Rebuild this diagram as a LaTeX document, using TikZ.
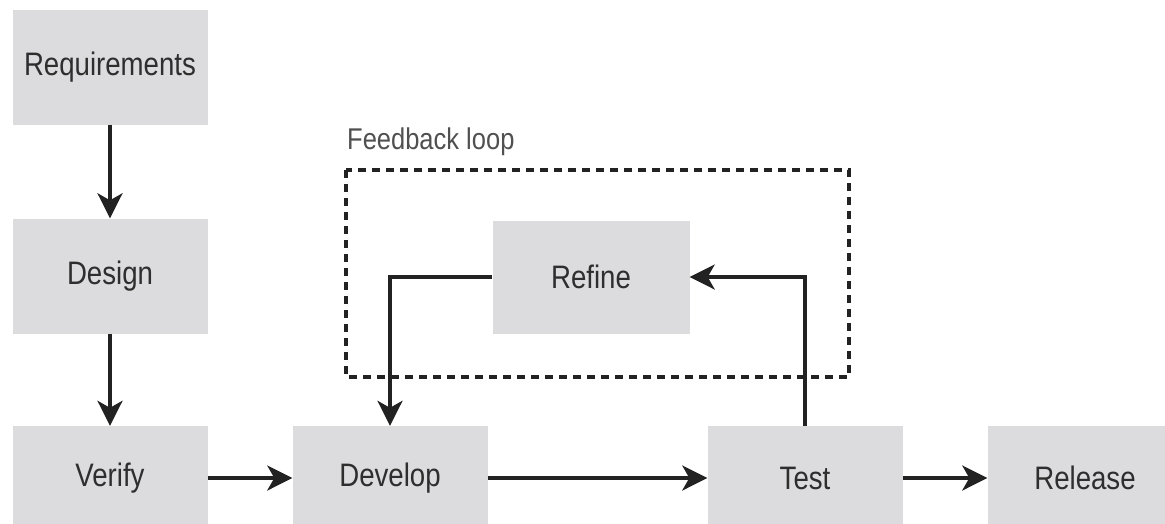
\documentclass[tikz,border=0pt]{standalone}
\usepackage{fontspec}
\setmainfont{Liberation Sans}
\newfontfamily\labelfont[FakeStretch=0.85]{Liberation Sans}
\usetikzlibrary{arrows.meta}
\definecolor{boxgray}{HTML}{DCDBDD}
\definecolor{inkgray}{HTML}{222222}
\definecolor{textgray}{HTML}{2E2E2E}
\definecolor{notegray}{HTML}{505050}
\tikzset{
  stage/.style={fill=boxgray, draw=none, minimum width=195pt, minimum height=115pt,
    inner sep=0pt, font=\labelfont\fontsize{32.5}{38}\selectfont, text=textgray},
  lowstage/.style={stage, minimum height=104pt},
  flow/.style={draw=inkgray, line width=3.5pt,
    -{Stealth[length=25pt,width=25pt,inset=7pt]}},
  loopframe/.style={draw=inkgray, line width=3.2pt, dash pattern=on 8pt off 6pt}
}
\begin{document}
\begin{tikzpicture}[x=1pt,y=-1pt]
\useasboundingbox (0,0) rectangle (1165,523);
\begin{scope}
\clip (0,0) rectangle (1165,523);
% process stages
\node[stage] (req) at (110,67) {Requirements};
\node[stage] (des) at (110,276) {Design};
\node[lowstage] (ver) at (110,478) {Verify};
\node[lowstage] (dev) at (390,478) {Develop};
\node[lowstage] (tst) at (805,478) {Test};
\node[lowstage] (rel) at (1085,478) {Release};
\node[stage, minimum width=197pt, minimum height=113pt] (ref) at (591,277) {Refine};

% feedback frame
\draw[loopframe] (346,170) rectangle (849,377);
\node[anchor=south west, inner sep=0pt, text=notegray,
  font=\labelfont\fontsize{30}{35}\selectfont] (fbl) at (347,156) {Feedback loop};

% main flow
\draw[flow] (req.south) -- (des.north);
\draw[flow] (des.south) -- (ver.north);
\draw[flow] (ver.east) -- (dev.west);
\draw[flow] (dev.east) -- (tst.west);
\draw[flow] (tst.east) -- (rel.west);

% loop connectors
\draw[flow] (tst.north) |- (ref.east);
\draw[flow] (ref.west) -| (dev.north);
\end{scope}
\end{tikzpicture}
\end{document}
